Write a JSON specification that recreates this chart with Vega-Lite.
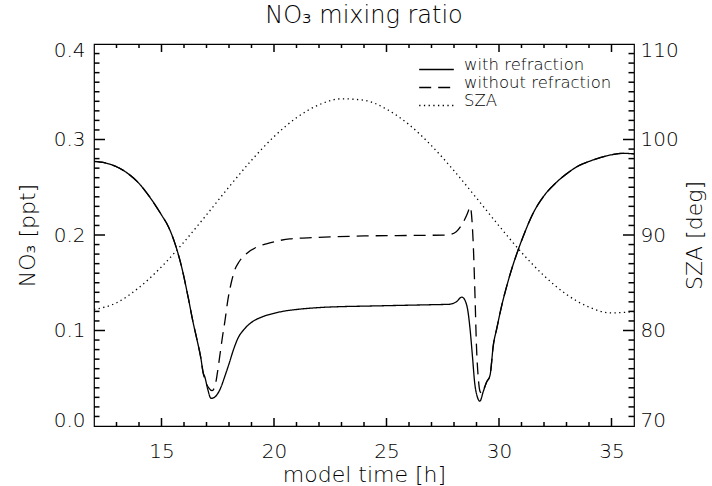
{
  "$schema": "https://vega.github.io/schema/vega-lite/v6.json",
  "width": 540,
  "height": 382,
  "autosize": {"type": "none"},
  "padding": {"left": 94, "top": 44, "right": 78, "bottom": 60},
  "background": "white",
  "title": {"text": "NO₃ mixing ratio", "fontSize": 24, "font": "DejaVu Sans", "fontWeight": 200, "color": "black", "anchor": "middle", "offset": 12},
  "config": {
    "view": {"stroke": "black", "strokeWidth": 1.2},
    "font": "DejaVu Sans",
    "tick": {"thickness": 1.5, "color": "black", "opacity": 1},
    "axis": {"grid": false, "domain": false, "ticks": false, "labelColor": "black", "titleColor": "black", "labelFont": "DejaVu Sans", "titleFont": "DejaVu Sans", "labelFontWeight": 200, "titleFontWeight": 200, "labelFontSize": 20, "titleFontSize": 22}
  },
  "datasets": {
    "no3": [
      {"t": 12.0, "v": 0.277, "series": "with refraction"},
      {"t": 12.5, "v": 0.2755, "series": "with refraction"},
      {"t": 13.0, "v": 0.2715, "series": "with refraction"},
      {"t": 13.5, "v": 0.2645, "series": "with refraction"},
      {"t": 14.0, "v": 0.254, "series": "with refraction"},
      {"t": 14.5, "v": 0.239, "series": "with refraction"},
      {"t": 15.0, "v": 0.221, "series": "with refraction"},
      {"t": 15.3, "v": 0.209, "series": "with refraction"},
      {"t": 15.6, "v": 0.191, "series": "with refraction"},
      {"t": 15.9, "v": 0.166, "series": "with refraction"},
      {"t": 16.2, "v": 0.133, "series": "with refraction"},
      {"t": 16.4, "v": 0.109, "series": "with refraction"},
      {"t": 16.6, "v": 0.088, "series": "with refraction"},
      {"t": 16.75, "v": 0.071, "series": "with refraction"},
      {"t": 16.85, "v": 0.056, "series": "with refraction"},
      {"t": 16.93, "v": 0.051, "series": "with refraction"},
      {"t": 17.05, "v": 0.039, "series": "with refraction"},
      {"t": 17.2, "v": 0.029, "series": "with refraction"},
      {"t": 17.35, "v": 0.030, "series": "with refraction"},
      {"t": 17.5, "v": 0.034, "series": "with refraction"},
      {"t": 17.65, "v": 0.041, "series": "with refraction"},
      {"t": 17.8, "v": 0.051, "series": "with refraction"},
      {"t": 18.0, "v": 0.065, "series": "with refraction"},
      {"t": 18.2, "v": 0.080, "series": "with refraction"},
      {"t": 18.4, "v": 0.092, "series": "with refraction"},
      {"t": 18.7, "v": 0.102, "series": "with refraction"},
      {"t": 19.0, "v": 0.1085, "series": "with refraction"},
      {"t": 19.5, "v": 0.1145, "series": "with refraction"},
      {"t": 20.0, "v": 0.118, "series": "with refraction"},
      {"t": 20.5, "v": 0.1205, "series": "with refraction"},
      {"t": 21.0, "v": 0.122, "series": "with refraction"},
      {"t": 22.0, "v": 0.124, "series": "with refraction"},
      {"t": 23.0, "v": 0.125, "series": "with refraction"},
      {"t": 24.0, "v": 0.1255, "series": "with refraction"},
      {"t": 25.0, "v": 0.126, "series": "with refraction"},
      {"t": 26.0, "v": 0.1265, "series": "with refraction"},
      {"t": 27.0, "v": 0.127, "series": "with refraction"},
      {"t": 27.8, "v": 0.1275, "series": "with refraction"},
      {"t": 28.1, "v": 0.130, "series": "with refraction"},
      {"t": 28.35, "v": 0.135, "series": "with refraction"},
      {"t": 28.5, "v": 0.131, "series": "with refraction"},
      {"t": 28.62, "v": 0.120, "series": "with refraction"},
      {"t": 28.72, "v": 0.100, "series": "with refraction"},
      {"t": 28.82, "v": 0.073, "series": "with refraction"},
      {"t": 28.92, "v": 0.045, "series": "with refraction"},
      {"t": 29.03, "v": 0.031, "series": "with refraction"},
      {"t": 29.15, "v": 0.026, "series": "with refraction"},
      {"t": 29.3, "v": 0.036, "series": "with refraction"},
      {"t": 29.45, "v": 0.046, "series": "with refraction"},
      {"t": 29.6, "v": 0.053, "series": "with refraction"},
      {"t": 29.75, "v": 0.085, "series": "with refraction"},
      {"t": 29.9, "v": 0.102, "series": "with refraction"},
      {"t": 30.1, "v": 0.124, "series": "with refraction"},
      {"t": 30.35, "v": 0.147, "series": "with refraction"},
      {"t": 30.6, "v": 0.167, "series": "with refraction"},
      {"t": 30.8, "v": 0.181, "series": "with refraction"},
      {"t": 31.1, "v": 0.200, "series": "with refraction"},
      {"t": 31.5, "v": 0.222, "series": "with refraction"},
      {"t": 32.0, "v": 0.241, "series": "with refraction"},
      {"t": 32.5, "v": 0.254, "series": "with refraction"},
      {"t": 33.0, "v": 0.264, "series": "with refraction"},
      {"t": 33.5, "v": 0.272, "series": "with refraction"},
      {"t": 34.0, "v": 0.277, "series": "with refraction"},
      {"t": 34.5, "v": 0.281, "series": "with refraction"},
      {"t": 35.0, "v": 0.284, "series": "with refraction"},
      {"t": 35.5, "v": 0.2855, "series": "with refraction"},
      {"t": 36.0, "v": 0.285, "series": "with refraction"},
      {"t": 12.0, "v": 0.277, "series": "without refraction"},
      {"t": 12.5, "v": 0.2755, "series": "without refraction"},
      {"t": 13.0, "v": 0.2715, "series": "without refraction"},
      {"t": 13.5, "v": 0.2645, "series": "without refraction"},
      {"t": 14.0, "v": 0.254, "series": "without refraction"},
      {"t": 14.5, "v": 0.239, "series": "without refraction"},
      {"t": 15.0, "v": 0.221, "series": "without refraction"},
      {"t": 15.3, "v": 0.209, "series": "without refraction"},
      {"t": 15.6, "v": 0.191, "series": "without refraction"},
      {"t": 15.9, "v": 0.166, "series": "without refraction"},
      {"t": 16.2, "v": 0.133, "series": "without refraction"},
      {"t": 16.4, "v": 0.109, "series": "without refraction"},
      {"t": 16.6, "v": 0.088, "series": "without refraction"},
      {"t": 16.75, "v": 0.071, "series": "without refraction"},
      {"t": 16.85, "v": 0.056, "series": "without refraction"},
      {"t": 16.95, "v": 0.047, "series": "without refraction"},
      {"t": 17.1, "v": 0.040, "series": "without refraction"},
      {"t": 17.25, "v": 0.037, "series": "without refraction"},
      {"t": 17.38, "v": 0.042, "series": "without refraction"},
      {"t": 17.48, "v": 0.055, "series": "without refraction"},
      {"t": 17.6, "v": 0.075, "series": "without refraction"},
      {"t": 17.72, "v": 0.095, "series": "without refraction"},
      {"t": 17.82, "v": 0.110, "series": "without refraction"},
      {"t": 17.95, "v": 0.132, "series": "without refraction"},
      {"t": 18.1, "v": 0.150, "series": "without refraction"},
      {"t": 18.25, "v": 0.163, "series": "without refraction"},
      {"t": 18.45, "v": 0.172, "series": "without refraction"},
      {"t": 18.8, "v": 0.181, "series": "without refraction"},
      {"t": 19.3, "v": 0.188, "series": "without refraction"},
      {"t": 19.7, "v": 0.191, "series": "without refraction"},
      {"t": 20.2, "v": 0.194, "series": "without refraction"},
      {"t": 20.7, "v": 0.196, "series": "without refraction"},
      {"t": 21.5, "v": 0.197, "series": "without refraction"},
      {"t": 22.5, "v": 0.198, "series": "without refraction"},
      {"t": 24.0, "v": 0.199, "series": "without refraction"},
      {"t": 26.0, "v": 0.1995, "series": "without refraction"},
      {"t": 27.7, "v": 0.200, "series": "without refraction"},
      {"t": 28.1, "v": 0.2035, "series": "without refraction"},
      {"t": 28.35, "v": 0.211, "series": "without refraction"},
      {"t": 28.5, "v": 0.2175, "series": "without refraction"},
      {"t": 28.62, "v": 0.224, "series": "without refraction"},
      {"t": 28.72, "v": 0.2296, "series": "without refraction"},
      {"t": 28.8, "v": 0.215, "series": "without refraction"},
      {"t": 28.86, "v": 0.188, "series": "without refraction"},
      {"t": 28.93, "v": 0.139, "series": "without refraction"},
      {"t": 29.0, "v": 0.083, "series": "without refraction"},
      {"t": 29.08, "v": 0.050, "series": "without refraction"},
      {"t": 29.16, "v": 0.036, "series": "without refraction"},
      {"t": 29.25, "v": 0.034, "series": "without refraction"},
      {"t": 29.35, "v": 0.040, "series": "without refraction"},
      {"t": 29.45, "v": 0.046, "series": "without refraction"},
      {"t": 29.6, "v": 0.053, "series": "without refraction"},
      {"t": 29.75, "v": 0.085, "series": "without refraction"},
      {"t": 29.9, "v": 0.102, "series": "without refraction"},
      {"t": 30.1, "v": 0.124, "series": "without refraction"},
      {"t": 30.35, "v": 0.147, "series": "without refraction"},
      {"t": 30.6, "v": 0.167, "series": "without refraction"},
      {"t": 30.8, "v": 0.181, "series": "without refraction"},
      {"t": 31.1, "v": 0.200, "series": "without refraction"},
      {"t": 31.5, "v": 0.222, "series": "without refraction"},
      {"t": 32.0, "v": 0.241, "series": "without refraction"},
      {"t": 32.5, "v": 0.254, "series": "without refraction"},
      {"t": 33.0, "v": 0.264, "series": "without refraction"},
      {"t": 33.5, "v": 0.272, "series": "without refraction"},
      {"t": 34.0, "v": 0.277, "series": "without refraction"},
      {"t": 34.5, "v": 0.281, "series": "without refraction"},
      {"t": 35.0, "v": 0.284, "series": "without refraction"},
      {"t": 35.5, "v": 0.2855, "series": "without refraction"},
      {"t": 36.0, "v": 0.285, "series": "without refraction"}
    ],
    "sza": [
      {"t": 12, "sza": 82.2, "series": "SZA"},
      {"t": 13, "sza": 82.9, "series": "SZA"},
      {"t": 14, "sza": 84.5, "series": "SZA"},
      {"t": 15, "sza": 86.67, "series": "SZA"},
      {"t": 16, "sza": 89.27, "series": "SZA"},
      {"t": 17, "sza": 92.11, "series": "SZA"},
      {"t": 18, "sza": 95.03, "series": "SZA"},
      {"t": 19, "sza": 97.82, "series": "SZA"},
      {"t": 20, "sza": 100.3, "series": "SZA"},
      {"t": 21, "sza": 102.28, "series": "SZA"},
      {"t": 22, "sza": 103.64, "series": "SZA"},
      {"t": 23, "sza": 104.26, "series": "SZA"},
      {"t": 24, "sza": 104.11, "series": "SZA"},
      {"t": 25, "sza": 103.18, "series": "SZA"},
      {"t": 26, "sza": 101.56, "series": "SZA"},
      {"t": 27, "sza": 99.35, "series": "SZA"},
      {"t": 28, "sza": 96.73, "series": "SZA"},
      {"t": 29, "sza": 93.87, "series": "SZA"},
      {"t": 30, "sza": 90.96, "series": "SZA"},
      {"t": 31, "sza": 88.18, "series": "SZA"},
      {"t": 32, "sza": 85.74, "series": "SZA"},
      {"t": 33, "sza": 83.78, "series": "SZA"},
      {"t": 34, "sza": 82.45, "series": "SZA"},
      {"t": 35, "sza": 81.84, "series": "SZA"},
      {"t": 36, "sza": 81.99, "series": "SZA"}
    ],
    "xmajor": [{"t": 15}, {"t": 20}, {"t": 25}, {"t": 30}, {"t": 35}],
    "xminor": [{"t": 13}, {"t": 14}, {"t": 16}, {"t": 17}, {"t": 18}, {"t": 19}, {"t": 21}, {"t": 22}, {"t": 23}, {"t": 24}, {"t": 26}, {"t": 27}, {"t": 28}, {"t": 29}, {"t": 31}, {"t": 32}, {"t": 33}, {"t": 34}],
    "ymajor": [{"v": 0.1}, {"v": 0.2}, {"v": 0.3}],
    "yminor": [{"v": 0.01}, {"v": 0.02}, {"v": 0.03}, {"v": 0.04}, {"v": 0.05}, {"v": 0.06}, {"v": 0.07}, {"v": 0.08}, {"v": 0.09}, {"v": 0.11}, {"v": 0.12}, {"v": 0.13}, {"v": 0.14}, {"v": 0.15}, {"v": 0.16}, {"v": 0.17}, {"v": 0.18}, {"v": 0.19}, {"v": 0.21}, {"v": 0.22}, {"v": 0.23}, {"v": 0.24}, {"v": 0.25}, {"v": 0.26}, {"v": 0.27}, {"v": 0.28}, {"v": 0.29}, {"v": 0.31}, {"v": 0.32}, {"v": 0.33}, {"v": 0.34}, {"v": 0.35}, {"v": 0.36}, {"v": 0.37}, {"v": 0.38}, {"v": 0.39}],
    "smajor": [{"s": 80}, {"s": 90}, {"s": 100}],
    "sminor": [{"s": 71}, {"s": 72}, {"s": 73}, {"s": 74}, {"s": 75}, {"s": 76}, {"s": 77}, {"s": 78}, {"s": 79}, {"s": 81}, {"s": 82}, {"s": 83}, {"s": 84}, {"s": 85}, {"s": 86}, {"s": 87}, {"s": 88}, {"s": 89}, {"s": 91}, {"s": 92}, {"s": 93}, {"s": 94}, {"s": 95}, {"s": 96}, {"s": 97}, {"s": 98}, {"s": 99}, {"s": 101}, {"s": 102}, {"s": 103}, {"s": 104}, {"s": 105}, {"s": 106}, {"s": 107}, {"s": 108}, {"s": 109}]
  },
  "layer": [
    {
      "data": {"name": "xmajor"},
      "mark": {"type": "tick", "orient": "vertical", "size": 8, "yOffset": -4},
      "encoding": {
        "x": {"field": "t", "type": "quantitative", "scale": {"domain": [12, 36], "nice": false, "zero": false}, "axis": null},
        "y": {"datum": 0, "type": "quantitative", "scale": {"domain": [0, 0.4], "nice": false, "zero": false}, "axis": null}
      }
    },
    {
      "data": {"name": "xmajor"},
      "mark": {"type": "tick", "orient": "vertical", "size": 8, "yOffset": 4},
      "encoding": {
        "x": {"field": "t", "type": "quantitative", "scale": {"domain": [12, 36], "nice": false, "zero": false}, "axis": null},
        "y": {"datum": 0.4, "type": "quantitative", "scale": {"domain": [0, 0.4], "nice": false, "zero": false}, "axis": null}
      }
    },
    {
      "data": {"name": "xminor"},
      "mark": {"type": "tick", "orient": "vertical", "size": 4, "yOffset": -2},
      "encoding": {
        "x": {"field": "t", "type": "quantitative", "scale": {"domain": [12, 36], "nice": false, "zero": false}, "axis": null},
        "y": {"datum": 0, "type": "quantitative", "scale": {"domain": [0, 0.4], "nice": false, "zero": false}, "axis": null}
      }
    },
    {
      "data": {"name": "xminor"},
      "mark": {"type": "tick", "orient": "vertical", "size": 4, "yOffset": 2},
      "encoding": {
        "x": {"field": "t", "type": "quantitative", "scale": {"domain": [12, 36], "nice": false, "zero": false}, "axis": null},
        "y": {"datum": 0.4, "type": "quantitative", "scale": {"domain": [0, 0.4], "nice": false, "zero": false}, "axis": null}
      }
    },
    {
      "data": {"name": "ymajor"},
      "mark": {"type": "tick", "orient": "horizontal", "size": 11, "xOffset": 5.5},
      "encoding": {
        "x": {"datum": 12, "type": "quantitative", "scale": {"domain": [12, 36], "nice": false, "zero": false}, "axis": null},
        "y": {"field": "v", "type": "quantitative", "scale": {"domain": [0, 0.4], "nice": false, "zero": false}, "axis": null}
      }
    },
    {
      "data": {"name": "yminor"},
      "mark": {"type": "tick", "orient": "horizontal", "size": 5.5, "xOffset": 2.75},
      "encoding": {
        "x": {"datum": 12, "type": "quantitative", "scale": {"domain": [12, 36], "nice": false, "zero": false}, "axis": null},
        "y": {"field": "v", "type": "quantitative", "scale": {"domain": [0, 0.4], "nice": false, "zero": false}, "axis": null}
      }
    },
    {
      "data": {"name": "smajor"},
      "mark": {"type": "tick", "orient": "horizontal", "size": 11, "xOffset": -5.5},
      "encoding": {
        "x": {"datum": 36, "type": "quantitative", "scale": {"domain": [12, 36], "nice": false, "zero": false}, "axis": null},
        "y": {"field": "s", "type": "quantitative", "scale": {"domain": [70, 110], "nice": false, "zero": false}, "axis": null}
      }
    },
    {
      "data": {"name": "sminor"},
      "mark": {"type": "tick", "orient": "horizontal", "size": 5.5, "xOffset": -2.75},
      "encoding": {
        "x": {"datum": 36, "type": "quantitative", "scale": {"domain": [12, 36], "nice": false, "zero": false}, "axis": null},
        "y": {"field": "s", "type": "quantitative", "scale": {"domain": [70, 110], "nice": false, "zero": false}, "axis": null}
      }
    },
    {
      "data": {"name": "no3"},
      "mark": {"type": "line", "color": "black", "strokeWidth": 1.3, "interpolate": "monotone"},
      "encoding": {
        "x": {"field": "t", "type": "quantitative", "scale": {"domain": [12, 36], "nice": false, "zero": false},
              "axis": {"orient": "bottom", "values": [15, 20, 25, 30, 35], "labelPadding": 15, "title": "model time [h]", "titlePadding": 3}},
        "y": {"field": "v", "type": "quantitative", "scale": {"domain": [0, 0.4], "nice": false, "zero": false},
              "axis": {"orient": "left", "values": [0, 0.1, 0.2, 0.3, 0.4], "format": ".1f", "labelPadding": 9, "labelFlush": true, "labelFlushOffset": 4, "title": "NO₃ [ppt]", "titlePadding": 14}},
        "strokeDash": {"field": "series", "type": "nominal",
              "scale": {"domain": ["with refraction", "without refraction", "SZA"], "range": [[1, 0], [12, 7], [1.3, 3.4]]},
              "legend": {"orient": "none", "legendX": 333, "legendY": 16, "title": null, "symbolType": "M-2,0H2", "symbolSize": 300, "symbolStrokeWidth": 1.3, "symbolStrokeColor": "black", "labelFontSize": 16.5, "labelFont": "DejaVu Sans", "labelFontWeight": 200, "labelColor": "black", "labelOffset": 18, "labelBaseline": "alphabetic", "rowPadding": 1, "padding": 0}}
      }
    },
    {
      "data": {"name": "sza"},
      "mark": {"type": "line", "color": "black", "strokeWidth": 1.3, "interpolate": "monotone"},
      "encoding": {
        "x": {"field": "t", "type": "quantitative", "scale": {"domain": [12, 36], "nice": false, "zero": false}, "axis": null},
        "y": {"field": "sza", "type": "quantitative", "scale": {"domain": [70, 110], "nice": false, "zero": false},
              "axis": {"orient": "right", "values": [70, 80, 90, 100, 110], "labelPadding": 6, "labelFlush": true, "labelFlushOffset": 4, "title": "SZA [deg]", "titleAngle": 270, "titlePadding": 28}},
        "strokeDash": {"field": "series", "type": "nominal",
              "scale": {"domain": ["with refraction", "without refraction", "SZA"], "range": [[1, 0], [12, 7], [1.3, 3.4]]}}
      }
    }
  ],
  "resolve": {"scale": {"x": "independent", "y": "independent"}, "axis": {"x": "independent", "y": "independent"}}
}
